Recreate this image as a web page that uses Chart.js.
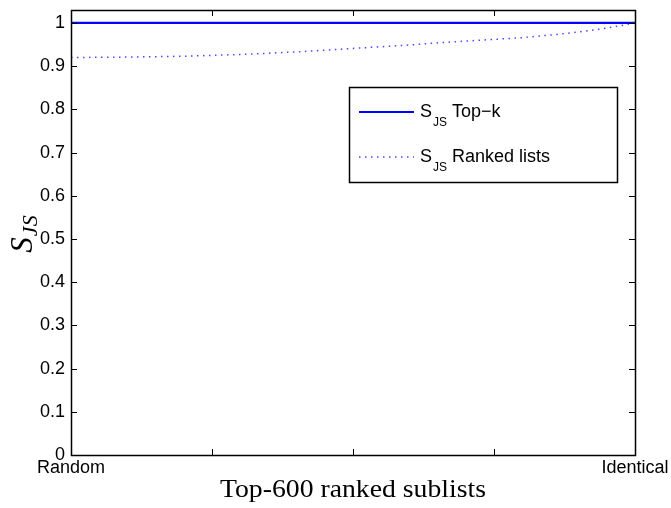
<!doctype html>
<html>
	<head>
		<title>S_JS vs ranked sublists</title>
		<script src="https://cdn.jsdelivr.net/npm/chart.js@4.4.1/dist/chart.umd.min.js"></script>
		<style>
			body { margin: 0; background: #fff; }
		</style>
	</head>
	<body>
		<canvas id="chart" width="671" height="508"></canvas>
		<script>
			// data
			const xPos = [0, 0.05, 0.1, 0.15, 0.2, 0.25, 0.3, 0.35, 0.4, 0.45, 0.5, 0.55, 0.6, 0.65, 0.7, 0.75, 0.8, 0.85, 0.9, 0.95, 1];
			const topK = [1, 1, 1, 1, 1, 1, 1, 1, 1, 1, 1, 1, 1, 1, 1, 1, 1, 1, 1, 1, 1];
			const rankedLists = [0.920, 0.9205, 0.921, 0.922, 0.923, 0.925, 0.927, 0.930, 0.933, 0.937, 0.941, 0.945, 0.949, 0.954, 0.958, 0.962, 0.966, 0.972, 0.979, 0.988, 1.000];
			const xTicks = [0, 0.25, 0.5, 0.75, 1];
			const xTickLabels = ['Random', '', '', '', 'Identical'];
			const yTicks = [0, 0.1, 0.2, 0.3, 0.4, 0.5, 0.6, 0.7, 0.8, 0.9, 1];
			const yTickLabels = ['0', '0.1', '0.2', '0.3', '0.4', '0.5', '0.6', '0.7', '0.8', '0.9', '1'];
			const seriesNames = ['Top\u2212k', 'Ranked lists'];
			const xTitle = 'Top-600 ranked sublists';

			const sans = '"Liberation Sans", Arial, sans-serif';
			const serif = '"Liberation Serif", "Times New Roman", serif';

			// frame, inward ticks, axis titles and the boxed legend
			const matlabLook = {
				id: 'matlabLook',
				afterDraw(chart) {
					const ctx = chart.ctx;
					const a = chart.chartArea;
					const xs = chart.scales.x, ys = chart.scales.y;
					ctx.save();
					ctx.strokeStyle = '#000';
					ctx.lineWidth = 1;
					ctx.beginPath();
					xs.ticks.forEach(t => {
						const px = Math.round(xs.getPixelForValue(t.value)) + 0.5;
						ctx.moveTo(px, a.bottom); ctx.lineTo(px, a.bottom - 6);
						ctx.moveTo(px, a.top); ctx.lineTo(px, a.top + 6);
					});
					ys.ticks.forEach(t => {
						const py = Math.round(ys.getPixelForValue(t.value)) + 0.5;
						ctx.moveTo(a.left, py); ctx.lineTo(a.left + 6, py);
						ctx.moveTo(a.right, py); ctx.lineTo(a.right - 6, py);
					});
					ctx.stroke();
					ctx.lineWidth = 1.5;
					ctx.strokeRect(Math.round(a.left) + 0.5, Math.round(a.top) + 0.5, Math.round(a.right - a.left), Math.round(a.bottom - a.top));

					// x title, stretched a little to the width of the original serif face
					ctx.fillStyle = '#000';
					ctx.font = '25px ' + serif;
					ctx.textAlign = 'center';
					ctx.textBaseline = 'alphabetic';
					const tw = ctx.measureText(xTitle).width;
					ctx.save();
					ctx.translate((a.left + a.right) / 2, 497);
					ctx.scale(266 / tw, 1);
					ctx.fillText(xTitle, 0, 0);
					ctx.restore();

					// y title S_JS, rotated
					ctx.save();
					ctx.translate(32, (a.top + a.bottom) / 2 + 2);
					ctx.rotate(-Math.PI / 2);
					ctx.textAlign = 'left';
					ctx.font = 'italic 31px ' + serif;
					const sw = ctx.measureText('S').width;
					ctx.font = 'italic 22px ' + serif;
					const jw = ctx.measureText('JS').width;
					const x0 = -(sw + jw) / 2;
					ctx.font = 'italic 31px ' + serif;
					ctx.fillText('S', x0, 0);
					ctx.font = 'italic 22px ' + serif;
					ctx.fillText('JS', x0 + sw + 1, 5);
					ctx.restore();

					// legend box
					const bx = 349, by = 87, bw = 268, bh = 95;
					ctx.fillStyle = '#fff';
					ctx.fillRect(bx, by, bw, bh);
					ctx.lineWidth = 1.5;
					ctx.strokeRect(bx + 0.5, by + 0.5, bw, bh);
					chart.data.datasets.forEach((ds, i) => {
						const ly = by + 25 + i * 45;
						ctx.strokeStyle = ds.borderColor;
						ctx.lineWidth = ds.borderWidth;
						ctx.setLineDash(ds.borderDash || []);
						ctx.beginPath();
						ctx.moveTo(bx + 10, ly); ctx.lineTo(bx + 65, ly);
						ctx.stroke();
						ctx.setLineDash([]);
						ctx.fillStyle = '#000';
						ctx.textAlign = 'left';
						ctx.font = '18px ' + sans;
						ctx.fillText('S', bx + 71, ly + 5);
						const s1 = ctx.measureText('S').width;
						ctx.font = '12px ' + sans;
						ctx.fillText('JS', bx + 71 + s1 + 1, ly + 14);
						const s2 = ctx.measureText('JS').width;
						ctx.font = '18px ' + sans;
						ctx.fillText(seriesNames[i], bx + 71 + s1 + s2 + 6, ly + 5);
					});
					ctx.restore();
				}
			};

			const ctx = document.getElementById('chart').getContext('2d');
			const myChart = new Chart(ctx, {
				type: 'line',
				data: {
					datasets: [{
						label: 'S_JS Top-k',
						data: xPos.map((x, i) => ({ x: x, y: topK[i] })),
						borderColor: '#0000ff',
						borderWidth: 2.2,
						pointRadius: 0,
						fill: false
					}, {
						label: 'S_JS Ranked lists',
						data: xPos.map((x, i) => ({ x: x, y: rankedLists[i] })),
						borderColor: 'rgba(40,40,255,0.85)',
						borderWidth: 1.5,
						borderDash: [1.5, 4.5],
						pointRadius: 0,
						fill: false
					}]
				},
				options: {
					responsive: false,
					animation: false,
					layout: { padding: { left: 0, top: 10, right: 36, bottom: 0 } },
					plugins: {
						legend: { display: false },
						tooltip: { enabled: false }
					},
					scales: {
						x: {
							type: 'linear',
							min: 0,
							max: 1,
							afterBuildTicks: s => { s.ticks = xTicks.map(v => ({ value: v })); },
							afterFit: s => { s.height = 53; },
							grid: { display: false, drawTicks: false },
							border: { display: false },
							ticks: {
								autoSkip: false,
								maxRotation: 0,
								padding: 2,
								color: '#000',
								font: { family: sans, size: 18 },
								callback: (v, i) => xTickLabels[i]
							}
						},
						y: {
							min: 0,
							max: 1.03,
							afterBuildTicks: s => { s.ticks = yTicks.map(v => ({ value: v })); },
							afterFit: s => { s.width = 71; s.paddingTop = 0; s.paddingBottom = 0; },
							grid: { display: false, drawTicks: false },
							border: { display: false },
							ticks: {
								padding: 6,
								color: '#000',
								font: { family: sans, size: 18 },
								callback: (v, i) => yTickLabels[i]
							}
						}
					}
				},
				plugins: [matlabLook]
			});
		</script>
	</body>
</html>
